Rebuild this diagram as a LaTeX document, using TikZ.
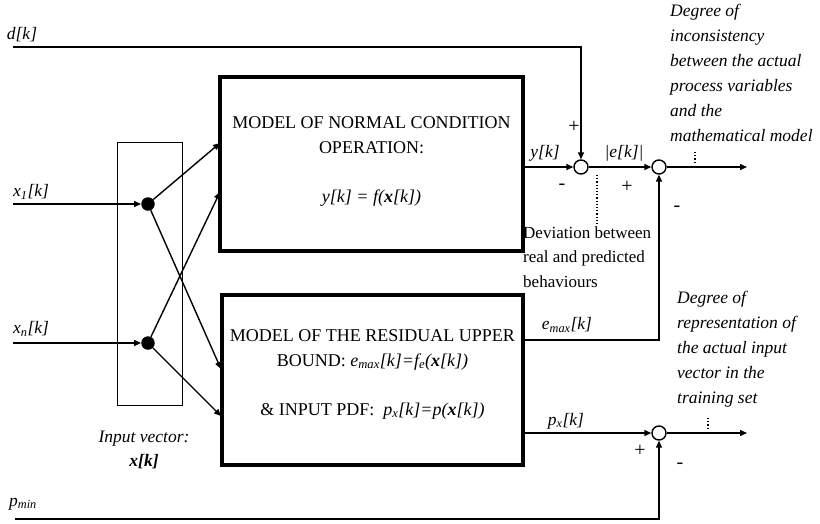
\documentclass[tikz,border=0pt]{standalone}
\usepackage{fontspec}
\setmainfont{Liberation Serif}
\usetikzlibrary{arrows.meta}
\begin{document}
\begin{tikzpicture}[x=1pt,y=-1pt,
  conn/.style={line width=1.4pt,-{Triangle[length=7pt,width=6pt]}},
  plain/.style={line width=1.4pt},
  mbox/.style={draw,line width=3.5pt,inner sep=0pt},
  sumc/.style={circle,draw,line width=1.4pt,minimum size=14pt,inner sep=0pt},
  dotc/.style={circle,fill,minimum size=13.5pt,inner sep=0pt},
  lbl/.style={font=\fontsize{17.5}{20}\selectfont\itshape,inner sep=0pt},
  sgn/.style={font=\fontsize{20}{22}\selectfont,inner sep=0pt},
  btxt/.style={font=\fontsize{18}{25}\selectfont,align=center,inner sep=0pt},
  ntxt/.style={font=\fontsize{17}{24.5}\selectfont,align=left,inner sep=0pt,anchor=north west},
  itxt/.style={font=\fontsize{17.5}{25}\selectfont\itshape,align=left,inner sep=0pt,anchor=north west}]
\useasboundingbox (0,0) rectangle (820,523);
% blocks
\node[mbox,minimum width=303pt,minimum height=174pt] (top) at (371.5,164) {};
\node[mbox,minimum width=301pt,minimum height=170pt] (bot) at (372.5,380) {};
\node[btxt] (toptxt) at (371.5,161) {MODEL OF NORMAL CONDITION\\OPERATION:\\[24pt]\textit{y[k] = f(\textbf{x}[k])}};
\node[btxt] (bottxt) at (372.5,374) {MODEL OF THE RESIDUAL UPPER\\BOUND: \textit{e\textsubscript{max}[k]=f\textsubscript{e}(\textbf{x}[k])}\\[24pt]\& INPUT PDF:\ \ \textit{p\textsubscript{x}[k]=p(\textbf{x}[k])}};
% input vector rectangle
\node[draw,line width=0.9pt,minimum width=65pt,minimum height=263pt,inner sep=0pt] (inrect) at (149.5,273.5) {};
\node[dotc] (d1) at (148,204) {};
\node[dotc] (dn) at (148,343) {};
% sums
\node[sumc] (s1) at (581,167) {};
\node[sumc] (s2) at (659,167) {};
\node[sumc] (s3) at (659,433) {};
% free ends
\coordinate (dk0) at (13,47);
\coordinate (dk1) at (581,47);
\coordinate (x10) at (13,204);
\coordinate (xn0) at (13,343);
\coordinate (pm0) at (15,519);
\coordinate (pm1) at (659,519);
\coordinate (em1) at (659,340);
\coordinate (o1) at (747,167);
\coordinate (o2) at (747,433);
\coordinate (ta1) at (220,143);
\coordinate (ta2) at (220,192);
\coordinate (ba1) at (221,369);
\coordinate (ba2) at (221,416);
% connectors
\draw[conn] (x10) -- (d1.west);
\draw[conn] (xn0) -- (dn.west);
\draw[conn] (d1) -- (ta1);
\draw[conn] (d1) -- (ba1);
\draw[conn] (dn) -- (ta2);
\draw[conn] (dn) -- (ba2);
\draw[conn] (dk0) -- (dk1) -- (s1.north);
\draw[conn] (top.east |- s1) -- (s1.west);
\draw[conn] (s1.east) -- (s2.west);
\draw[conn] (s2.east) -- (o1);
\draw[conn] (bot.east |- em1) -- (em1) -- (s2.south);
\draw[conn] (bot.east |- s3) -- (s3.west);
\draw[conn] (pm0) -- (pm1) -- (s3.south);
\draw[conn] (s3.east) -- (o2);
% dotted markers
\draw[line width=1.2pt,dotted] (597,175) -- (597,226);
\draw[line width=1.2pt,dotted] (695,152) -- (695,164);
\draw[line width=1.2pt,dotted] (708,418) -- (708,430);
% labels
\node[lbl] (ldk) at (22,35) {d[k]};
\node[lbl] (lx1) at (31,192) {x\textsubscript{1}[k]};
\node[lbl] (lxn) at (31,329) {x\textsubscript{n}[k]};
\node[lbl] (lpm) at (23,504) {p\textsubscript{min}};
\node[lbl,align=center,font=\fontsize{17.5}{24}\selectfont\itshape] (liv) at (144,450) {Input vector:\\\textbf{x[k]}};
\node[lbl] (lyk) at (545,153) {y[k]};
\node[lbl] (lek) at (624,153) {|e[k]|};
\node[lbl] (lem) at (567,325) {e\textsubscript{max}[k]};
\node[lbl] (lpx) at (566,421) {p\textsubscript{x}[k]};
\node[sgn] (p1) at (574,127) {+};
\node[sgn] (m1) at (562,187) {-};
\node[sgn] (p2) at (627,187) {+};
\node[sgn] (m2) at (677,209) {-};
\node[sgn] (p3) at (640,451) {+};
\node[sgn] (m3) at (680,466) {-};
\node[ntxt] (dev) at (523,226) {Deviation between\\real and predicted\\behaviours};
\node[itxt] (deg1) at (670,4) {Degree of\\inconsistency\\between the actual\\process variables\\and the\\mathematical model};
\node[itxt] (deg2) at (677,291) {Degree of\\representation of\\the actual input\\vector in the\\training set};
\end{tikzpicture}
\end{document}
